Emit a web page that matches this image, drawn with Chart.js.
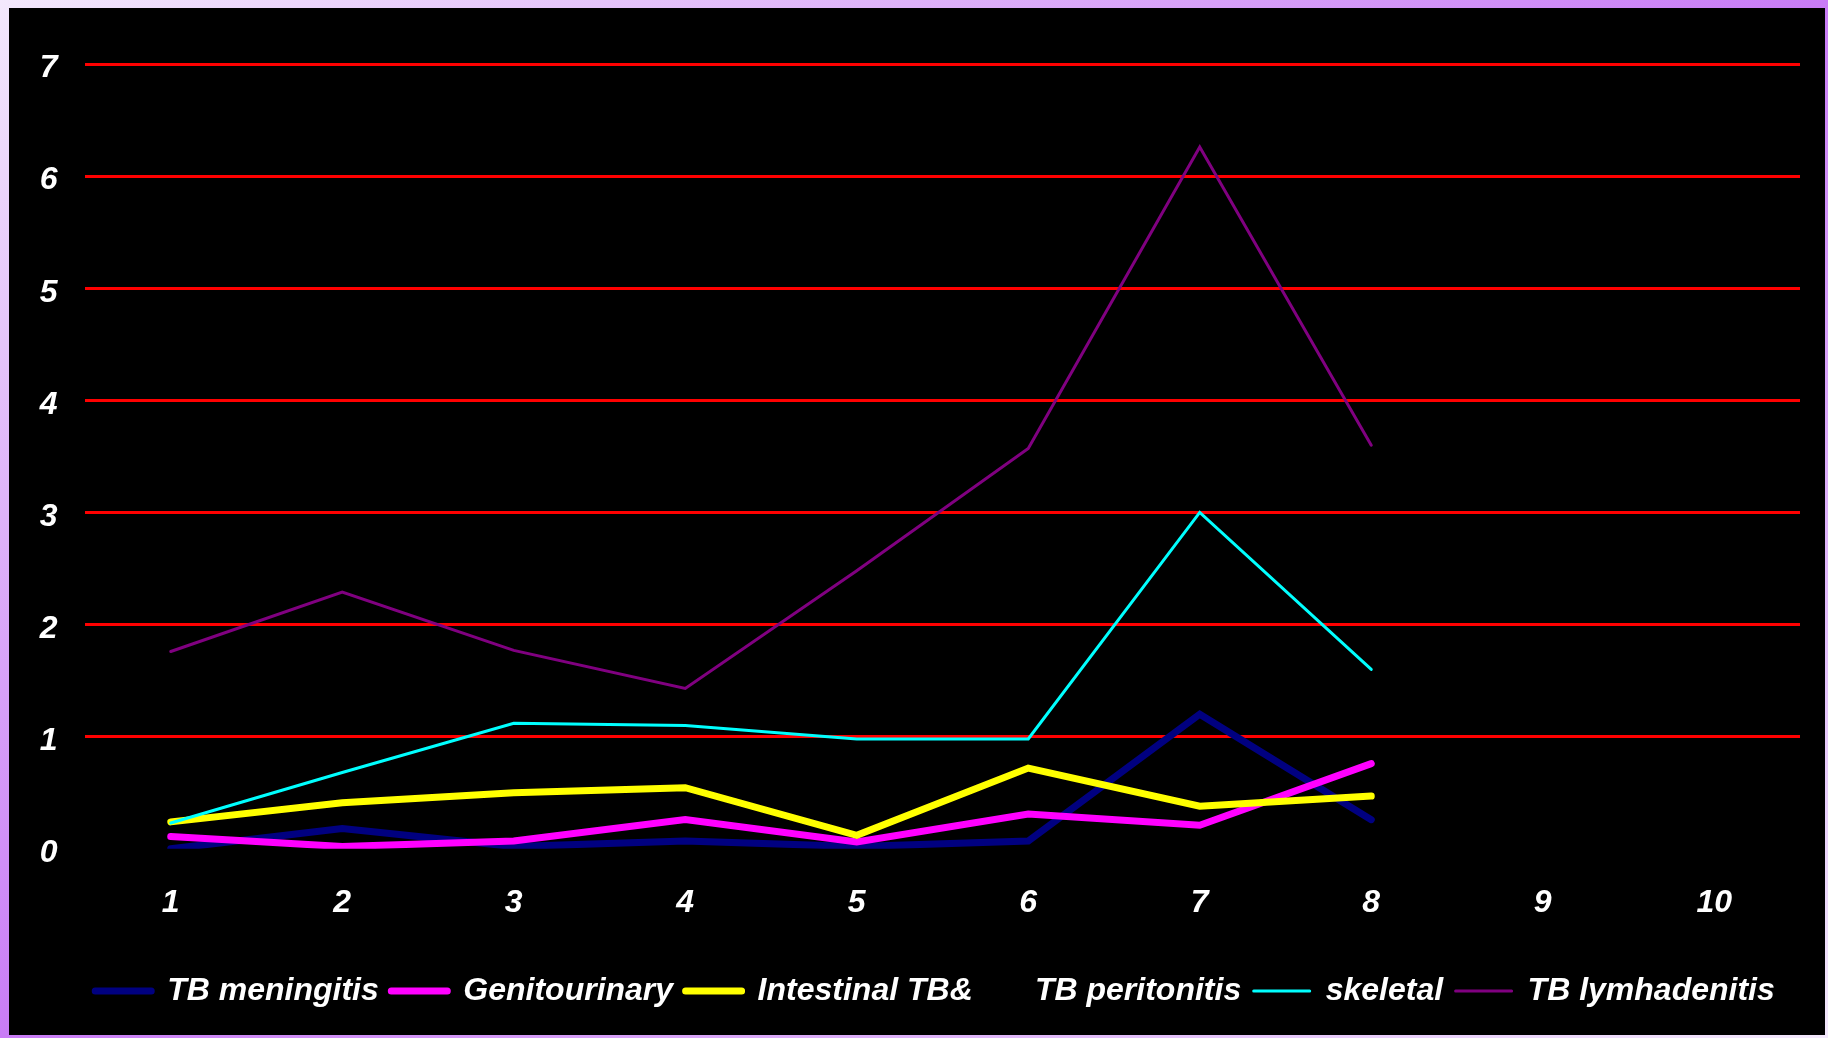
<!DOCTYPE html>
<html><head><meta charset="utf-8">
<script src="https://cdn.jsdelivr.net/npm/chart.js@4.4.0/dist/chart.umd.min.js"></script>
<style>
html,body{margin:0;padding:0;width:1828px;height:1038px;overflow:hidden;}
body{background:linear-gradient(to bottom right,#f3e8fc 0%,#c97cf6 50%,#f3e8fc 100%);}
#box{position:absolute;left:9px;top:8px;width:1816px;height:1027px;background:#000;}
canvas{display:block}
</style></head><body><div id="box"><canvas id="c" width="1816" height="1027"></canvas></div>
<script>
const categories = ['1','2','3','4','5','6','7','8','9','10'];
const seriesNames = ['TB meningitis','Genitourinary','Intestinal TB&\u00a0\u00a0\u00a0\u00a0\u00a0\u00a0\u00a0TB peritonitis','skeletal','TB lymhadenitis'];
const tbMeningitis = [0, 0.18, 0.02, 0.07, 0.02, 0.07, 1.2, 0.26];
const genitourinary = [0.11, 0.02, 0.07, 0.26, 0.06, 0.31, 0.21, 0.76];
const intestinalPeritonitis = [0.24, 0.41, 0.5, 0.545, 0.12, 0.72, 0.38, 0.47];
const skeletal = [0.23, 0.68, 1.12, 1.1, 0.98, 0.98, 3.0, 1.6];
const lymhadenitis = [1.76, 2.29, 1.77, 1.43, 2.48, 3.57, 6.26, 3.6];
const yMin = 0, yMax = 7, yStep = 1;

const colors = ['#000080','#ff00ff','#ffff00','#00ffff','#800080'];
const widths = [7,7,7,3,3];
const allData = [tbMeningitis, genitourinary, intestinalPeritonitis, skeletal, lymhadenitis];

const font = {family:"'Liberation Sans', Arial, sans-serif", size:32, style:'italic', weight:'bold'};

const legendShift = {
  id:'legendShift',
  afterLayout(chart){ if (chart.legend) { chart.legend.left += 61; } }
};

new Chart(document.getElementById('c'), {
  type:'line',
  data:{
    labels: categories,
    datasets: allData.map((d,i)=>({
      label: seriesNames[i],
      data: d,
      borderColor: colors[i],
      backgroundColor: colors[i],
      borderWidth: widths[i],
      pointRadius: 0,
      pointHoverRadius: 0,
      tension: 0,
      fill: false,
      borderCapStyle: 'round',
      borderJoinStyle: 'miter',
      order: allData.length - i
    }))
  },
  plugins:[legendShift],
  options:{
    responsive:false,
    animation:false,
    devicePixelRatio:1,
    layout:{padding:{left:0,right:25,top:56,bottom:18}},
    plugins:{
      tooltip:{enabled:false},
      legend:{
        position:'bottom',
        labels:{
          color:'#ffffff',
          font: font,
          boxWidth:56,
          boxHeight:0,
          padding:12.5,
          sort:(a,b)=>a.datasetIndex-b.datasetIndex,
          generateLabels(chart){
            const items = Chart.defaults.plugins.legend.labels.generateLabels(chart);
            items.forEach(it=>{ it.fillStyle='rgba(0,0,0,0)'; it.lineJoin='round'; it.lineCap='round'; });
            return items;
          }
        }
      }
    },
    scales:{
      x:{
        offset:true,
        grid:{display:false, drawTicks:false},
        border:{display:false},
        ticks:{color:'#ffffff', font:font, padding:35, maxRotation:0, autoSkip:false},
        afterFit(s){ s.height = 113.7; }
      },
      y:{
        min:yMin, max:yMax,
        grid:{color:(c)=> c.tick && c.tick.value===0 ? 'rgba(0,0,0,0)' : '#ff0000', lineWidth:3, drawTicks:false},
        border:{display:false},
        ticks:{stepSize:yStep, color:'#ffffff', font:font, padding:27.5, labelOffset:4.5},
        afterFit(s){ s.width = 76; }
      }
    }
  }
});
</script></body></html>
